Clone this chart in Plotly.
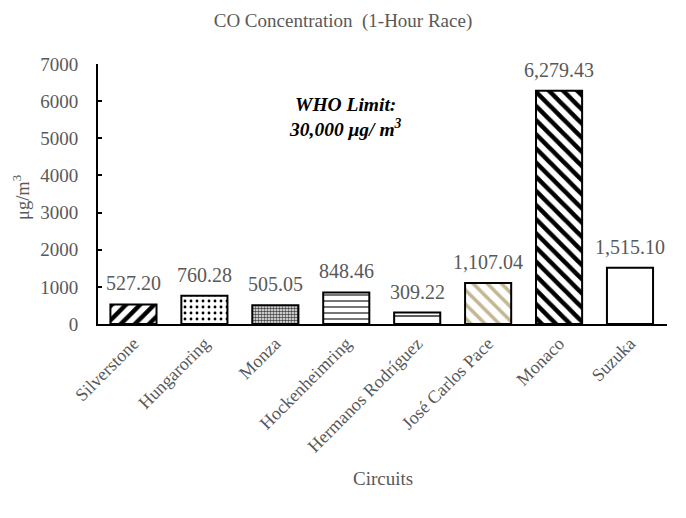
import plotly.graph_objects as go

circuits = ["Silverstone", "Hungaroring", "Monza", "Hockenheimring",
            "Hermanos Rodríguez", "José Carlos Pace", "Monaco", "Suzuka"]
co_values = [527.20, 760.28, 505.05, 848.46, 309.22, 1107.04, 6279.43, 1515.10]
y_ticks = [0, 1000, 2000, 3000, 4000, 5000, 6000, 7000]

pattern_shapes = ["/", ".", ".", "-", "-", "\\", "\\", ""]
pattern_fg = ["black", "black", "#444444", "#666666", "#333333", "#c4b894", "black", "black"]
pattern_size = [10, 6, 3, 6, 8, 10, 10, 8]
pattern_solidity = [0.45, 0.18, 0.55, 0.3, 0.2, 0.35, 0.45, 0.3]

labels = [f"{v:,.2f}" for v in co_values]

font_family = "Liberation Serif, Times New Roman, serif"
gray = "#595959"

fig = go.Figure(go.Bar(
    x=circuits,
    y=co_values,
    marker=dict(
        color="white",
        line=dict(color="black", width=2),
        pattern=dict(shape=pattern_shapes, fgcolor=pattern_fg, bgcolor="white",
                     size=pattern_size, solidity=pattern_solidity,
                     fillmode="replace", fgopacity=1),
    ),
))

annotations = [dict(
    x=c, y=v, xref="x", yref="y", text=t, showarrow=False,
    xanchor="center", yanchor="bottom", yshift=8,
    font=dict(family=font_family, size=20, color=gray),
) for c, v, t in zip(circuits, co_values, labels)]

annotations.append(dict(
    text="<b><i>WHO Limit:<br>30,000 μg/ m<sup>3</sup></i></b>",
    xref="paper", yref="paper", x=(345 - 98) / 569, y=(324 - 117) / 260,
    xanchor="center", yanchor="middle", showarrow=False,
    font=dict(family=font_family, size=19.5, color="black"), align="center",
))
annotations.append(dict(
    text="Circuits", xref="paper", yref="paper",
    x=0.5, y=(324 - 478) / 260, xanchor="center", yanchor="middle", showarrow=False,
    font=dict(family=font_family, size=19, color=gray),
))
annotations.append(dict(
    text="μg/m<sup>3</sup>", xref="paper", yref="paper", textangle=-90,
    x=(21 - 98) / 569, y=(324 - 198) / 260, xanchor="center", yanchor="middle",
    showarrow=False, font=dict(family=font_family, size=18.5, color=gray),
))

fig.update_layout(
    width=686, height=518,
    margin=dict(l=98, r=19, t=64, b=194),
    paper_bgcolor="white", plot_bgcolor="white",
    bargap=0.35,
    showlegend=False,
    font=dict(family=font_family, color=gray, size=19),
    title=dict(text="CO Concentration\u2002(1-Hour Race)", x=0.5, xanchor="center",
               y=1 - 20 / 518, yanchor="middle",
               font=dict(family=font_family, size=19, color=gray)),
    annotations=annotations,
)

fig.update_xaxes(
    showline=True, linecolor="black", linewidth=2,
    ticks="", tickangle=-45,
    tickfont=dict(family=font_family, size=18, color=gray),
    showgrid=False,
)
fig.update_yaxes(
    range=[0, 7000], tickvals=y_ticks,
    showline=True, linecolor="black", linewidth=2,
    ticks="inside", ticklen=4, tickcolor="black", tickwidth=2,
    ticklabelstandoff=14,
    tickfont=dict(family=font_family, size=19, color=gray),
    showgrid=False, zeroline=False,
)

fig.write_html("out.html")
